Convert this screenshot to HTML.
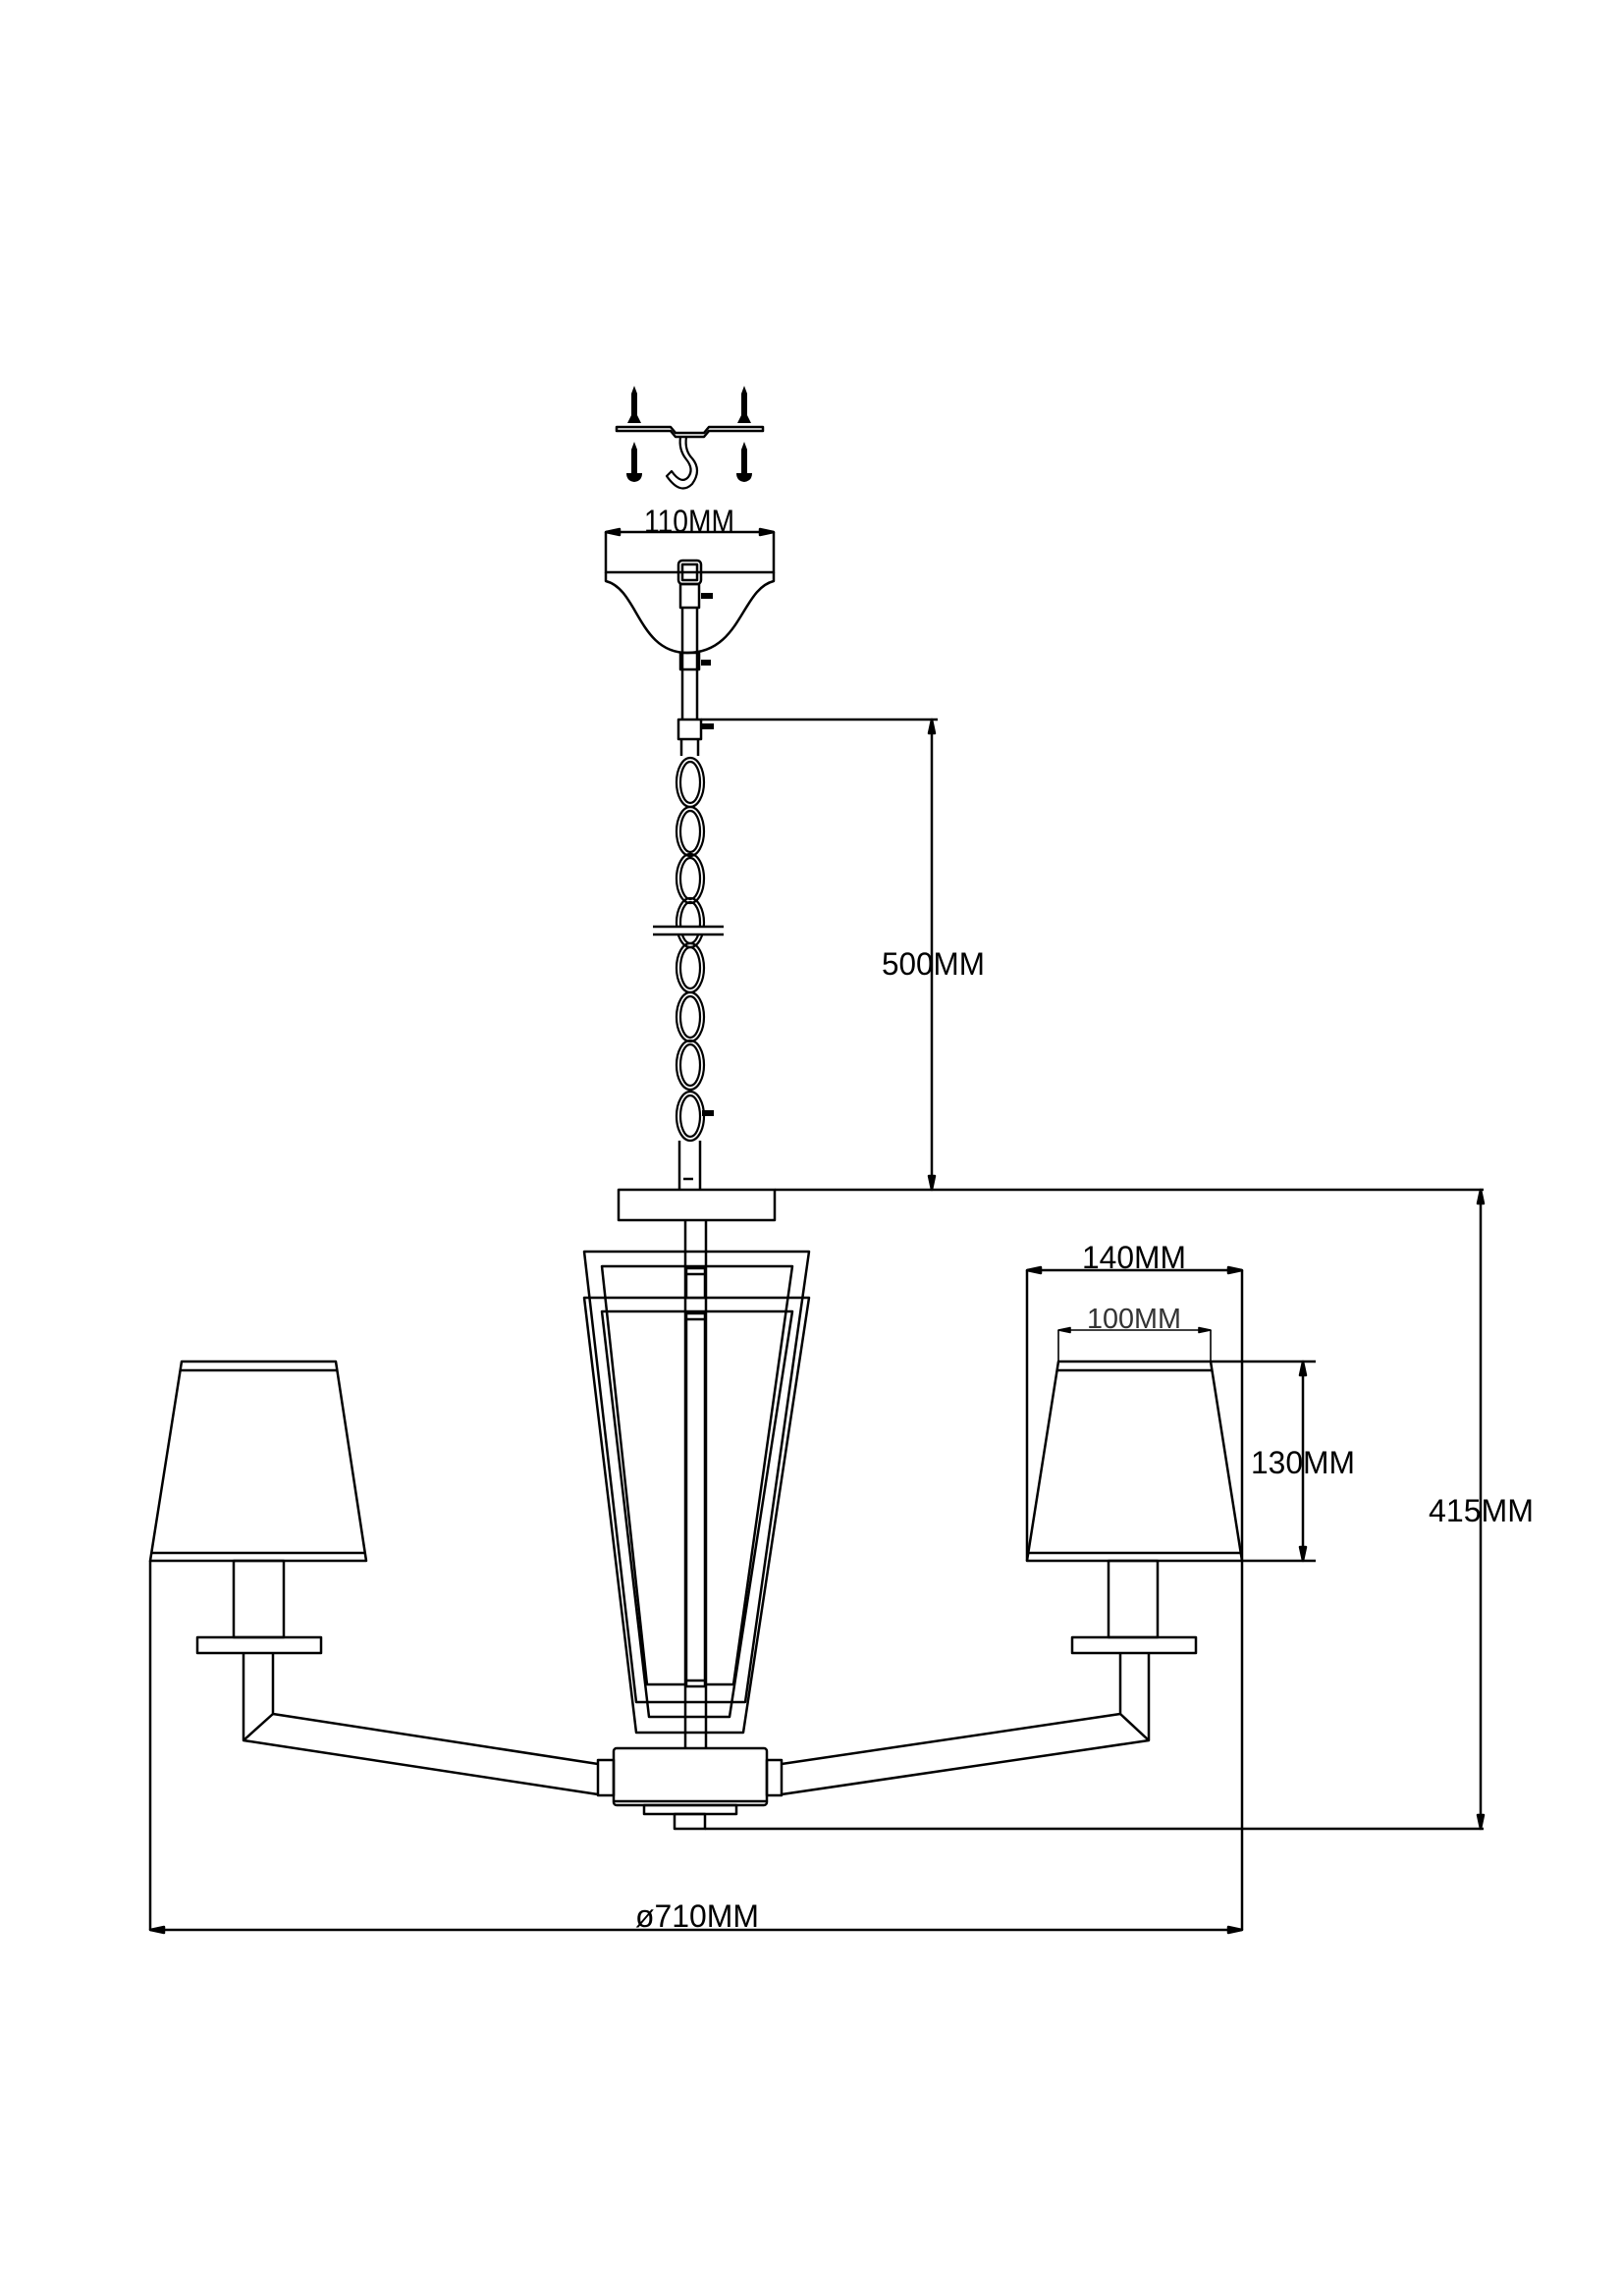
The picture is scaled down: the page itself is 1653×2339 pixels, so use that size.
<!DOCTYPE html>
<html><head><meta charset="utf-8"><style>html,body{margin:0;padding:0;background:#fff}svg{display:block}</style></head>
<body>
<svg width="1653" height="2339" viewBox="0 0 1653 2339" xmlns="http://www.w3.org/2000/svg">
<g fill="none" stroke="#000" stroke-width="2.5" stroke-linejoin="round">
<!-- screws -->
<g fill="#000" stroke="none">
<path d="M646 393 l-3 8 v22 l-4 8 h14 l-4 -8 v-22z"/>
<path d="M758 393 l-3 8 v22 l-4 8 h14 l-4 -8 v-22z"/>
<path d="M646 450 l-3 8 v24 h-5 q0 8 8 9 q8 -1 8 -9 h-5 v-24z"/>
<path d="M758 450 l-3 8 v24 h-5 q0 8 8 9 q8 -1 8 -9 h-5 v-24z"/>
</g>
<!-- plate -->
<path d="M628 435 H683 L688 441 H717 L722 435 H777 V439 H722 L717 445 H688 L683 439 H628 Z"/>
<!-- hook -->
<path d="M699 445 q-2 14 6 22 q10 12 0 26 q-12 12 -26 -8 l5 -5 q10 14 17 6 q6 -8 -2 -18 q-8 -10 -6 -23" stroke-width="2.2"/>
<!-- 110 dim -->
<line x1="617" y1="542" x2="788" y2="542"/>
<path d="M617 542 l14 -3 v6z M788 542 l-14 -3 v6z" fill="#000"/>
<!-- canopy -->
<path d="M617 542 V583 H788 V542"/>
<path d="M617 583 V592 C650 600 650 665 700 665 C755 665 755 600 788 592 V583"/>
<!-- loop & tubes -->
<rect x="691" y="571" width="23" height="24" rx="4"/>
<rect x="695" y="575" width="15" height="16"/>
<rect x="693" y="595" width="19" height="24"/>
<line x1="695" y1="619" x2="695" y2="733"/><line x1="710" y1="619" x2="710" y2="733"/>
<rect x="693" y="665" width="19" height="17"/>
<g fill="#000" stroke="none"><rect x="714" y="604" width="12" height="6"/><rect x="714" y="672" width="10" height="6"/><rect x="715" y="737" width="12" height="6"/><rect x="715" y="1131" width="12" height="6"/></g>
<!-- 500 dim -->
<line x1="714" y1="733" x2="955" y2="733"/>
<line x1="949" y1="733" x2="949" y2="1212"/>
<path d="M949 733 l-3 14 h6z M949 1212 l-3 -14 h6z" fill="#000"/>
<!-- chain -->
<rect x="691" y="733" width="23" height="20"/>
<line x1="694" y1="753" x2="694" y2="770"/><line x1="711" y1="753" x2="711" y2="770"/>
<g stroke-width="2.2">
<ellipse cx="703" cy="797" rx="14" ry="25"/><ellipse cx="703" cy="797" rx="10" ry="21"/>
<ellipse cx="703" cy="847" rx="14" ry="25"/><ellipse cx="703" cy="847" rx="10" ry="21"/>
<ellipse cx="703" cy="895" rx="14" ry="25"/><ellipse cx="703" cy="895" rx="10" ry="21"/>
<ellipse cx="703" cy="940" rx="14" ry="25"/><ellipse cx="703" cy="940" rx="10" ry="21"/>
<ellipse cx="703" cy="986" rx="14" ry="25"/><ellipse cx="703" cy="986" rx="10" ry="21"/>
<ellipse cx="703" cy="1036" rx="14" ry="25"/><ellipse cx="703" cy="1036" rx="10" ry="21"/>
<ellipse cx="703" cy="1085" rx="14" ry="25"/><ellipse cx="703" cy="1085" rx="10" ry="21"/>
<ellipse cx="703" cy="1137" rx="14" ry="25"/><ellipse cx="703" cy="1137" rx="10" ry="21"/>
</g>
<rect x="665" y="944" width="72" height="8" fill="#fff" stroke="none"/>
<line x1="665" y1="944" x2="737" y2="944"/><line x1="665" y1="952" x2="737" y2="952"/>
<line x1="692" y1="1162" x2="692" y2="1212"/><line x1="713" y1="1162" x2="713" y2="1212"/>
<line x1="696" y1="1201" x2="706" y2="1201"/>
<!-- top plate -->
<rect x="630" y="1212" width="159" height="31"/>
<line x1="789" y1="1212" x2="1511" y2="1212"/>
<!-- rod -->
<line x1="698" y1="1243" x2="698" y2="1781"/><line x1="719" y1="1243" x2="719" y2="1781"/>
<!-- cage frames -->
<polygon points="595,1275 824,1275 759,1734 648,1734" fill="none"/>
<polygon points="613,1290 807,1290 747,1716 659,1716"/>
<polygon points="595,1322 824,1322 757,1765 648,1765"/>
<polygon points="613,1336 807,1336 743,1749 661,1749"/>
<rect x="699" y="1292" width="19" height="30" fill="#fff"/>
<rect x="699" y="1338" width="19" height="380" fill="#fff"/>
<line x1="699" y1="1298" x2="718" y2="1298"/><line x1="699" y1="1344" x2="718" y2="1344"/><line x1="699" y1="1712" x2="718" y2="1712"/>
<!-- body -->
<rect x="625" y="1781" width="156" height="58" rx="3"/>
<line x1="625" y1="1835" x2="781" y2="1835"/>
<rect x="656" y="1839" width="94" height="9"/>
<rect x="687" y="1848" width="31" height="15"/>
<line x1="718" y1="1863" x2="1511" y2="1863"/>
<rect x="609" y="1793" width="16" height="36"/>
<rect x="781" y="1793" width="15" height="36"/>
<!-- arms -->
<polyline points="609,1797 278,1746 278,1684"/>
<polyline points="609,1828 248,1773 248,1684"/>
<line x1="278" y1="1746" x2="248" y2="1773"/>
<polyline points="796,1797 1141,1746 1141,1684"/>
<polyline points="796,1828 1170,1773 1170,1684"/>
<line x1="1141" y1="1746" x2="1170" y2="1773"/>
<!-- bobeches & candles -->
<rect x="201" y="1668" width="126" height="16"/>
<rect x="1092" y="1668" width="126" height="16"/>
<rect x="238" y="1590" width="51" height="78"/>
<rect x="1129" y="1590" width="50" height="78"/>
<!-- shades -->
<polygon points="185,1387 342,1387 373,1590 153,1590"/>
<line x1="184" y1="1396" x2="343" y2="1396"/><line x1="154" y1="1582" x2="372" y2="1582"/>
<polygon points="1078,1387 1233,1387 1265,1590 1046,1590"/>
<line x1="1077" y1="1396" x2="1234" y2="1396"/><line x1="1047" y1="1582" x2="1264" y2="1582"/>
<!-- dims -->
<line x1="1046" y1="1294" x2="1265" y2="1294"/>
<line x1="1046" y1="1294" x2="1046" y2="1590"/>
<line x1="1265" y1="1294" x2="1265" y2="1966"/>
<path d="M1046 1294 l14 -3 v6z M1265 1294 l-14 -3 v6z" fill="#000"/>
<g stroke-width="1.6"><line x1="1078" y1="1355" x2="1233" y2="1355"/>
<line x1="1078" y1="1355" x2="1078" y2="1387"/><line x1="1233" y1="1355" x2="1233" y2="1387"/>
<path d="M1078 1355 l12 -2.5 v5z M1233 1355 l-12 -2.5 v5z" fill="#000"/></g>
<line x1="1233" y1="1387" x2="1340" y2="1387"/><line x1="1265" y1="1590" x2="1340" y2="1590"/>
<line x1="1327" y1="1387" x2="1327" y2="1590"/>
<path d="M1327 1387 l-3 14 h6z M1327 1590 l-3 -14 h6z" fill="#000"/>
<line x1="1508" y1="1212" x2="1508" y2="1863"/>
<path d="M1508 1212 l-3 14 h6z M1508 1863 l-3 -14 h6z" fill="#000"/>
<line x1="153" y1="1590" x2="153" y2="1966"/>
<line x1="153" y1="1966" x2="1265" y2="1966"/>
<path d="M153 1966 l14 -3 v6z M1265 1966 l-14 -3 v6z" fill="#000"/>
</g>
<g font-family="Liberation Sans, sans-serif" font-size="32" fill="#000">
<text x="656" y="542" textLength="92" lengthAdjust="spacingAndGlyphs">110MM</text>
<text x="898" y="993" textLength="105" lengthAdjust="spacingAndGlyphs">500MM</text>
<text x="1102" y="1292" textLength="106" lengthAdjust="spacingAndGlyphs">140MM</text>
<text x="1107" y="1353" textLength="96" lengthAdjust="spacingAndGlyphs" font-size="29" fill="#333">100MM</text>
<text x="1274" y="1501" textLength="106" lengthAdjust="spacingAndGlyphs">130MM</text>
<text x="1455" y="1550" textLength="107" lengthAdjust="spacingAndGlyphs">415MM</text>
<text x="647" y="1963" textLength="126" lengthAdjust="spacingAndGlyphs">ø710MM</text>
</g>
</svg>
</body></html>
